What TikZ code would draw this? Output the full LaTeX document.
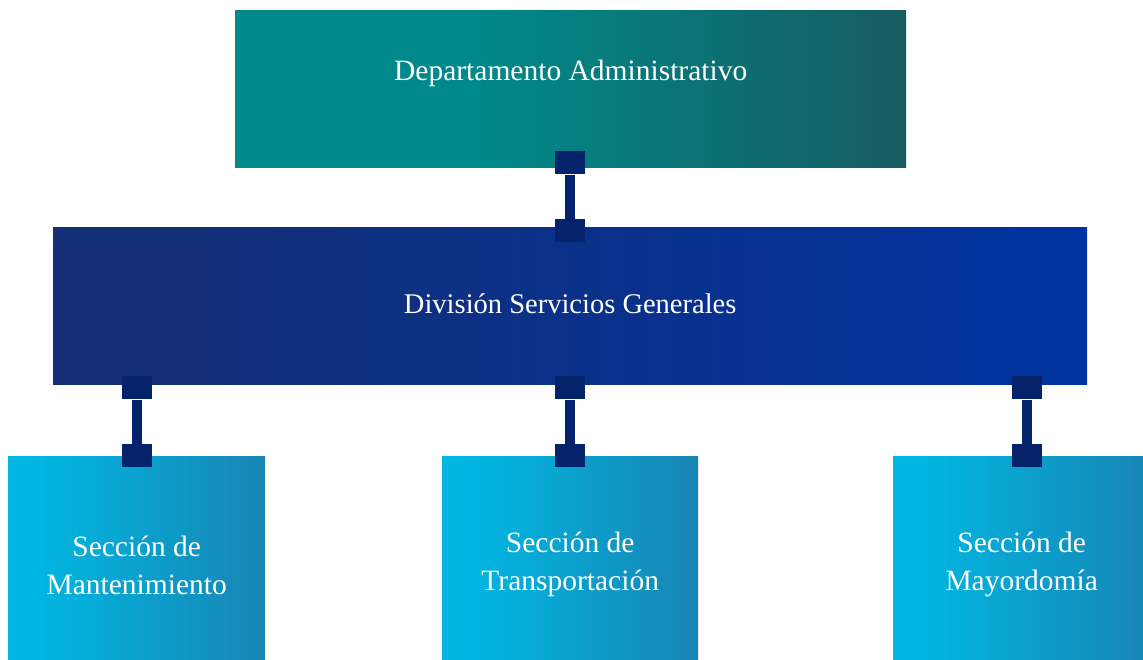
\documentclass[tikz,border=0pt]{standalone}
\usepackage{fontspec}
\setmainfont{Liberation Serif}
\usetikzlibrary{calc}
\definecolor{tealL}{HTML}{00898A}
\definecolor{tealR}{HTML}{165C61}
\definecolor{navyL}{HTML}{132F76}
\definecolor{navyR}{HTML}{0033A1}
\definecolor{cyanL}{HTML}{00B7E2}
\definecolor{cyanR}{HTML}{1885B4}
\definecolor{connC}{HTML}{04236A}
\pgfdeclarehorizontalshading{topgrad}{100bp}{color(0bp)=(tealL); color(43bp)=(tealL); color(75bp)=(tealR); color(100bp)=(tealR)}
\pgfdeclarehorizontalshading{midgrad}{100bp}{color(0bp)=(navyL); color(30bp)=(navyL); color(75bp)=(navyR); color(100bp)=(navyR)}
\pgfdeclarehorizontalshading{botgrad}{100bp}{color(0bp)=(cyanL); color(30bp)=(cyanL); color(75bp)=(cyanR); color(100bp)=(cyanR)}
\tikzset{
  box/.style={rectangle, draw=none, inner sep=0pt, anchor=north west},
  lbl/.style={text=white, font=\fontsize{29.5}{38}\selectfont, align=center, inner sep=0pt},
  sq/.style={rectangle, fill=connC, draw=none, minimum width=30, minimum height=23, inner sep=0pt},
  bar/.style={draw=connC, line width=10pt},
}
\begin{document}
\begin{tikzpicture}[x=1pt,y=-1pt]
\useasboundingbox (0,0) rectangle (1143,659);
\clip (0,0) rectangle (1143,659);
% boxes
\node[box, shading=topgrad, minimum width=671, minimum height=157] (dept) at (235,10) {};
\node[box, shading=midgrad, minimum width=1034, minimum height=157] (div) at (53,227) {};
\node[box, shading=botgrad, minimum width=257, minimum height=210] (mant) at (8,456) {};
\node[box, shading=botgrad, minimum width=256, minimum height=210] (trans) at (442,456) {};
\node[box, shading=botgrad, minimum width=257, minimum height=210] (mayo) at (893,456) {};
% labels
\node[lbl, anchor=base] (deptT) at ($(dept.north)+(0,70)$) {Departamento Administrativo};
\node[lbl, anchor=base, font=\fontsize{28.5}{38}\selectfont] (divT) at ($(div.north)+(0,86)$) {División Servicios Generales};
\node[lbl, anchor=base] (mantT) at ($(mant.north)+(0,138)$) {Sección de\\Mantenimiento};
\node[lbl, anchor=base] (transT) at ($(trans.north)+(0,134)$) {Sección de\\Transportación};
\node[lbl, anchor=base] (mayoT) at ($(mayo.north)+(0,134)$) {Sección de\\Mayordomía};
% connectors
\coordinate (c0) at (570,0);
\coordinate (c1) at (137,0);
\coordinate (c2) at (570,0);
\coordinate (c3) at (1027,0);
\node[sq] (a0) at ($(dept.south -| c0)+(0,-4.5)$) {};
\node[sq] (b0) at ($(div.north -| c0)+(0,3.5)$) {};
\draw[bar] (a0) -- (b0);
\foreach \i/\ch in {1/mant,2/trans,3/mayo}{
  \node[sq] (a\i) at ($(div.south -| c\i)+(0,3.5)$) {};
  \node[sq] (b\i) at ($(\ch.north -| c\i)+(0,-0.5)$) {};
  \draw[bar] (a\i) -- (b\i);
}
\end{tikzpicture}
\end{document}
